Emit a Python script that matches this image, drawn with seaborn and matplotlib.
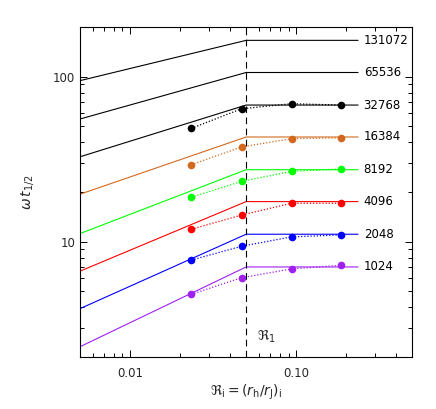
import numpy as np
import pandas as pd
import matplotlib
matplotlib.use('Agg')
import matplotlib.pyplot as plt
import matplotlib.ticker as mticker
import seaborn as sns

# --- data ---
n_labels = ['131072', '65536', '32768', '16384', '8192', '4096', '2048', '1024']
colors = ['black', 'black', 'black', '#d2691e', '#00ff00', '#ff0000', '#0000ff', '#a020f0']

# model lines: rising part up to R_1 = 0.05, then flat
x_model = [0.005, 0.05, 0.236]
y_left = [94.6, 55.4, 32.7, 19.4, 11.2, 6.63, 3.93, 2.31]
y_kink = [166, 106, 67.3, 43.1, 27.3, 17.5, 11.1, 7.03]

# simulation points (only for N <= 32768)
sim_labels = ['32768', '16384', '8192', '4096', '2048', '1024']
x_sim = [0.0234, 0.0469, 0.0938, 0.1875]
y_sim = [
    [48.6, 63.9, 68.6, 67.3],
    [29.3, 37.5, 42.1, 42.6],
    [18.6, 23.2, 26.7, 27.6],
    [11.9, 14.5, 17.1, 17.1],
    [7.74, 9.38, 10.7, 11.0],
    [4.80, 6.05, 6.84, 7.2],
]
r1 = 0.05

rows = []
for lab, yl, yk in zip(n_labels, y_left, y_kink):
    for xv, yv in zip(x_model, [yl, yk, yk]):
        rows.append({'N': lab, 'x': xv, 'y': yv})
df_model = pd.DataFrame(rows)

rows = []
for lab, ys in zip(sim_labels, y_sim):
    for xv, yv in zip(x_sim, ys):
        rows.append({'N': lab, 'x': xv, 'y': yv})
df_sim = pd.DataFrame(rows)

palette = dict(zip(n_labels, colors))

sns.set_style('ticks')
plt.rcParams['font.family'] = ['DejaVu Sans']

fig = plt.figure(figsize=(4.36, 4.09), dpi=100)
ax = fig.add_axes([0.1835, 0.127, 0.762, 0.807])

sns.lineplot(data=df_model, x='x', y='y', hue='N', palette=palette, estimator=None,
             sort=False, legend=False, lw=0.8, ax=ax)
sns.lineplot(data=df_sim, x='x', y='y', hue='N', palette=palette, estimator=None,
             sort=False, legend=False, lw=0.9, linestyle=(0, (1, 1.5)), marker='o',
             markersize=5.5, markeredgewidth=0, ax=ax)

ax.axvline(r1, color='black', lw=0.8, ls=(0, (6, 4)))

for lab, yk in zip(n_labels, y_kink):
    ax.text(0.255, yk, lab, va='center', ha='left', fontsize=8.5, color='black')

ax.text(0.058, 2.64, r'$\Re_1$', fontsize=10, va='center')

ax.set_xscale('log')
ax.set_yscale('log')
ax.set_xlim(0.005, 0.5)
ax.set_ylim(2, 200)

ax.xaxis.set_major_locator(mticker.FixedLocator([0.01, 0.1]))
ax.xaxis.set_major_formatter(mticker.FixedFormatter(['0.01', '0.10']))
ax.xaxis.set_minor_locator(mticker.LogLocator(base=10, subs=np.arange(2, 10)))
ax.xaxis.set_minor_formatter(mticker.NullFormatter())
ax.yaxis.set_major_locator(mticker.FixedLocator([10, 100]))
ax.yaxis.set_major_formatter(mticker.FixedFormatter(['10', '100']))
ax.yaxis.set_minor_locator(mticker.LogLocator(base=10, subs=np.arange(2, 10)))
ax.yaxis.set_minor_formatter(mticker.NullFormatter())

ax.tick_params(which='both', direction='in', top=True, right=True, width=0.7, color='black')
ax.tick_params(which='major', length=5, labelsize=8.5)
ax.tick_params(axis='x', which='major', pad=7)
ax.tick_params(which='minor', length=3)
for s in ax.spines.values():
    s.set_linewidth(0.8)
    s.set_color('black')

ax.set_xlabel(r'$\Re_{\rm i}=(r_{\rm h}/r_{\rm J})_{\rm i}$', fontsize=10, labelpad=2)
ax.set_ylabel(r'$\omega\, t_{1/2}$', fontsize=10, labelpad=12)

fig.savefig('out.png', dpi=100)
